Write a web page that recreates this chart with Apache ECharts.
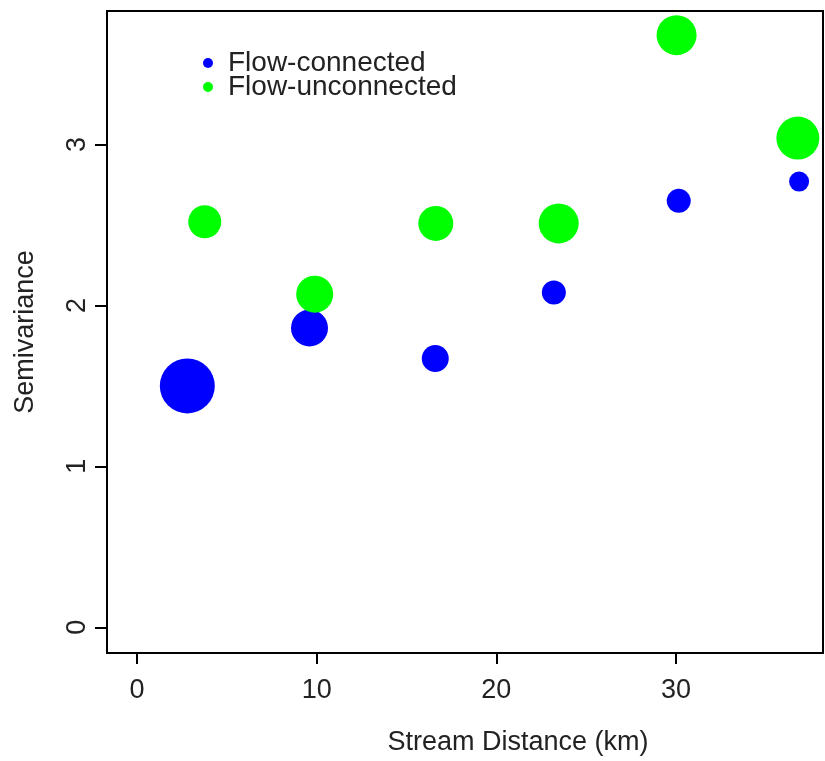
<!DOCTYPE html>
<html>
<head>
<meta charset="utf-8">
<script src="https://cdn.jsdelivr.net/npm/echarts@6/dist/echarts.min.js"></script>
<style>html,body{margin:0;padding:0;background:#fff;}#c{width:825px;height:761px;}</style>
</head>
<body>
<div id="c"></div>
<script>
// Flow-connected (blue)
var connDist = [2.8, 9.6, 16.6, 23.2, 30.15, 36.85];
var connSemi = [1.50, 1.86, 1.67, 2.08, 2.65, 2.77];
var connWeight = [5.5, 3.7, 2.7, 2.4, 2.4, 2.0];
// Flow-unconnected (green)
var uncDist = [3.77, 9.89, 16.63, 23.47, 30.03, 36.78];
var uncSemi = [2.52, 2.07, 2.51, 2.51, 3.68, 3.04];
var uncWeight = [3.3, 3.7, 3.5, 4.0, 4.0, 4.3];
var xTicks = [0, 10, 20, 30];
var yTicks = [0, 1, 2, 3];
var seriesNames = ['Flow-connected', 'Flow-unconnected'];

function pts(xs, ys, ws) {
  return xs.map(function (x, i) { return [x, ys[i], ws[i]]; });
}
var FONT = 'Liberation Sans';
var chart = echarts.init(document.getElementById('c'), null, {renderer: 'canvas'});
chart.setOption({
  animation: false,
  backgroundColor: '#ffffff',
  grid: {left: 107, top: 11, right: 2, bottom: 107, show: true, borderColor: '#000', borderWidth: 2, backgroundColor: 'transparent'},
  legend: {
    orient: 'vertical', left: 198, top: 44, itemWidth: 10, itemHeight: 10, itemGap: -4,
    icon: 'circle',
    data: seriesNames,
    textStyle: {fontFamily: FONT, fontSize: 28, color: '#222', lineHeight: 24, padding: [0, 0, 0, 10]}
  },
  xAxis: {
    type: 'value', min: -1.67, max: 38.18,
    name: 'Stream Distance (km)', nameLocation: 'middle', nameGap: 76,
    nameTextStyle: {fontFamily: FONT, fontSize: 27, color: '#222', padding: [0, 0, 0, 106]},
    axisLine: {show: false, onZero: false},
    axisTick: {show: true, inside: false, length: 11, customValues: xTicks, lineStyle: {color: '#000', width: 2}},
    axisLabel: {customValues: xTicks, fontFamily: FONT, fontSize: 27, color: '#222', margin: 24},
    splitLine: {show: false}
  },
  yAxis: {
    type: 'value', min: -0.16, max: 3.83,
    name: 'Semivariance', nameLocation: 'middle', nameGap: 68, nameRotate: 90,
    nameTextStyle: {fontFamily: FONT, fontSize: 27, color: '#222'},
    axisLine: {show: false, onZero: false},
    axisTick: {show: true, inside: false, length: 12, customValues: yTicks, lineStyle: {color: '#000', width: 2}},
    axisLabel: {customValues: yTicks, rotate: 90, fontFamily: FONT, fontSize: 27, color: '#222', margin: 16},
    splitLine: {show: false}
  },
  series: [
    {
      name: seriesNames[0], type: 'scatter', data: pts(connDist, connSemi, connWeight),
      symbol: 'circle', symbolSize: function (v) { return v[2] * 10; },
      itemStyle: {color: '#0000ff', opacity: 1}
    },
    {
      name: seriesNames[1], type: 'scatter', data: pts(uncDist, uncSemi, uncWeight),
      symbol: 'circle', symbolSize: function (v) { return v[2] * 10; },
      itemStyle: {color: '#00ff00', opacity: 1}
    }
  ]
});
</script>
</body>
</html>
